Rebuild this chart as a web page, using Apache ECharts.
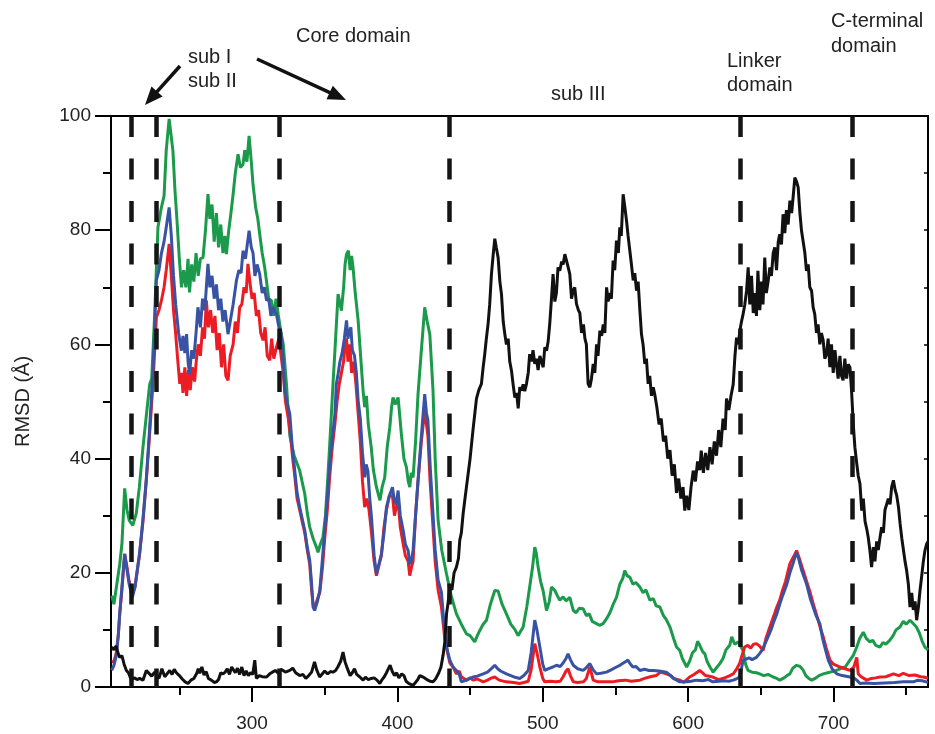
<!DOCTYPE html>
<html>
<head>
<meta charset="utf-8">
<script src="https://cdn.jsdelivr.net/npm/echarts@6/dist/echarts.min.js"></script>
<style>
  html, body { margin: 0; padding: 0; background: #fff; }
  #app { width: 935px; height: 734px; }
</style>
</head>
<body>
<div id="app"></div>
<script>
const xTicks = [300, 400, 500, 600, 700];
const xMinorTicks = [250, 350, 450, 550, 650, 750];
const dividers = [217, 234.2, 318.6, 436, 636, 712.9];

const green = [[203.5,16],[205,14.5],[207,18],[209,21.5],[210.5,25],[212.4,34.8],[214,31],[215.5,29.2],[218,28.3],[220.4,30.4],[222.5,35],[225,42],[227.5,48],[229.6,53],[231,54],[233,65],[235.3,80.5],[237.7,84],[239.5,86],[241,94],[243,99.5],[245.6,93.9],[247,87],[248.4,81.7],[250,75],[251.5,70],[253,73],[254.5,70],[256,75],[257,69.1],[258.5,74],[260,71],[261.5,76],[263,72],[264.5,75],[266.3,75.2],[268,80],[269.7,86.3],[271,82],[272.5,84.5],[274,78],[275.5,83],[277,77],[278.5,81],[280,76],[281.3,79],[282.4,75.8],[284,80],[285.5,83],[287,86.3],[288.5,90],[290.4,93.3],[292,91],[293.8,91.5],[295,94],[296.5,92],[298,96.5],[299.5,92],[300.7,88],[302.5,84],[304,82],[305.3,79.3],[307,76],[308.7,73.5],[310,71],[311.5,68],[313.3,67.7],[315,65],[316.5,68],[318,65.3],[320,62],[321.5,60],[323.7,53],[326,44],[329,40.5],[332.8,37.9],[336.3,33.8],[338,30.5],[339.7,28],[342,26],[344.3,24.5],[345.4,23.6],[347,25],[348.8,26.2],[350.5,30],[352.3,37.3],[354,45],[355.7,53],[357.5,61],[359.2,68.8],[361.5,65.9],[363,70],[364,74],[365,75.8],[366.3,76.4],[367.5,73],[368.5,75.5],[369.5,73.5],[371,69],[373,64.2],[374.7,58],[376.4,51.9],[377.5,49],[378.7,51],[380,46],[382,42],[383.5,38],[385.6,35],[388,32.7],[389.5,35],[391.3,36.7],[393,42],[394.8,45.5],[396,49],[397,50.7],[398.5,49.5],[400.5,50.7],[402.7,44.4],[404.5,40],[406.2,38.5],[407.5,36],[408.5,35],[409.5,37.5],[410.8,36.7],[412.5,43],[414.2,51.3],[416.5,59],[418.8,66.5],[420.5,64],[422.3,61.8],[424.5,52],[426,40],[428,29.2],[430.5,24],[433.8,19.8],[437,16],[440.6,12.8],[444,11],[447.5,9.3],[450,9],[453.2,7.9],[455,9],[456.7,9.9],[459,11],[461.3,11.7],[464,14.5],[467,16.9],[469.3,16.8],[472,14.5],[475,12.8],[478,11],[481,10],[483,9],[486.5,10.5],[489,14],[491,17.5],[493,21],[494.5,24.5],[495.5,23.5],[496.8,21],[498.5,18.5],[500.2,16.9],[502.6,13.4],[504.5,15],[506,17.5],[508.3,16.9],[510,16],[511.7,15.2],[514,15.8],[516,15.1],[518.6,15.7],[521,13.4],[523,13],[525,13.8],[527.8,13.7],[530,12.5],[532,12.8],[534,11.5],[537,11.1],[539,10.8],[541.5,11.1],[544,12],[546,12.9],[548.5,14.5],[550.7,15.7],[553,18],[555,19],[556.4,20.4],[558,19.5],[560,19.2],[562,18],[564,18.3],[566.8,17.5],[569,16.5],[571,17],[573.7,15.2],[576,15.5],[578,14.2],[580.6,14],[583,12.5],[585,11.8],[587.5,10.5],[590,8.5],[592,7],[594.3,6.4],[596,5],[599,3.5],[601,4.5],[603,6],[605,6.5],[606.5,8],[608,7.3],[610,6.2],[611.5,5.8],[613,4.5],[615,3.5],[617.2,2.6],[619,3.2],[621.8,4.1],[624,5],[626,6.5],[628.6,7.3],[630,8.8],[632,7.5],[634.3,7.9],[636,7.2],[637.8,6.4],[639.5,4],[641.2,2.9],[644,2.6],[647,2.5],[649.2,2.3],[652,2],[655,2.2],[658.5,1.75],[661,1.5],[663,1.2],[666,1.6],[668,2],[670,2.3],[672,3.3],[674.6,3.8],[677,3.6],[679,3],[681,2],[683,1.5],[685,1.2],[688,1.6],[690,2],[693,2.3],[696,2.5],[699,2.7],[702,2.9],[705,3.2],[708,3.5],[711.3,4.7],[713.5,5.5],[716,7],[718,8.5],[720.5,9.6],[722.5,8.5],[725,7.9],[727,8.2],[729,7.3],[732,7],[734,7.8],[736,7.5],[738.8,8.2],[741,9],[743,10],[745.7,10.5],[748,11.5],[750,11],[752.6,11.7],[754.5,11.2],[757,10.5],[759,9.5],[761,8],[762.9,7],[765,6.5]];

const red = [[203.5,4.4],[205,4.5],[206.5,5.8],[208,9],[209,12.8],[210.5,17],[212.4,23.3],[214,21],[215.5,18.5],[217.7,16.3],[219.5,17.5],[222.7,23.3],[225,29],[227.3,36.2],[229.5,44],[232,53.7],[234.2,64.7],[236,66],[237.7,67.7],[239.5,70],[241,73],[243,77.6],[244.5,72],[246,66],[247.5,61.8],[249,57],[250.3,53.1],[251.5,55],[252.5,51.5],[253.8,56],[255,51],[256.3,55.5],[257.5,52],[259,56],[260.5,53.5],[261.7,57.2],[263,60],[264.5,58],[266,63],[267.3,61],[268.6,67.7],[270,63],[271.5,66],[273,62],[274.5,65],[276,59],[277.5,62],[279,56],[280.5,60],[282,54.5],[283.5,53.7],[285,58],[287,60],[288.5,64],[290,62],[291.5,66.5],[293,67],[294.5,70],[296,69],[297.2,74.1],[298.5,71],[300,68],[301.5,69],[303,65],[304.5,66],[306,62],[307.6,60.7],[309,63],[310.5,58],[312.2,57.2],[313.5,61],[315,57.5],[316.8,59.5],[318.5,61],[320,58],[321.5,55],[323,50],[325,47],[326.5,44],[328,40],[329.4,37],[331,33],[332.8,31],[334.5,29],[336.3,27],[338,24],[339.7,21.5],[341,17],[342,14.5],[343.1,13.8],[344.5,15],[346.6,16.5],[348.5,21],[350,26],[351.8,31],[353.5,37],[355.2,42],[357,46],[358.5,50],[360,53],[361.5,55],[363,57],[364.2,60.5],[365,61],[366,57],[367.3,60],[368.5,55],[370,57],[371.5,53],[373,48],[374.5,43],[376,36],[377.5,31.5],[379,33],[380.5,31],[382.2,27],[384,22],[385.6,19.5],[387.5,21.5],[389,23],[390.8,28],[392.5,31],[394.5,33.5],[396.6,33.5],[398,30],[399.2,31.5],[400.5,32.5],[402,28],[404,25],[405.5,23],[407.4,22],[408.5,19.5],[409.7,21],[410.8,22],[412.5,30],[414.2,36],[416.5,43],[418.8,48.5],[420,46],[421,44],[422.5,36],[424.5,28],[426,22],[428,17],[430.3,14],[432.6,8.5],[434.5,6],[436.1,4.2],[438.3,3.5],[440.6,2.3],[442.5,2.8],[444,1.8],[447.5,1.2],[450,1.6],[452,1.2],[455,1.4],[459,0.9],[462,1.2],[464,1.5],[467,1.75],[470,1.2],[475,0.9],[480,0.8],[484,0.6],[487,0.8],[490,1],[492,3],[494.5,7.6],[496,6],[498,3.5],[500,1.5],[501.4,0.9],[505,1],[509,0.9],[512,1],[514,1.8],[516,2.8],[517.4,3.2],[519,2],[521,0.9],[524,0.8],[528,0.9],[530,1.5],[532.4,3.5],[534.7,1.2],[538,0.9],[542,0.9],[548,0.9],[552,1.1],[557,1.2],[561,1],[566.8,1.2],[570,1.5],[574,1.8],[578,2],[581,2.6],[585,2.3],[588,2],[590,1.5],[594.3,1.2],[597,0.8],[601,1.75],[604,2.2],[608,2.9],[612,2],[617,1.75],[621,1.3],[625,1.6],[628,1.9],[631,2.3],[633,3],[635.4,4.1],[637,5.5],[638.9,7],[641,7.3],[643,6.8],[645,7.5],[647,7.6],[649,7.2],[651.6,6.4],[653.5,8.5],[656.2,10.5],[659,12.5],[661,14],[663,15.2],[665,17],[667,18.5],[670,21.6],[672.5,22.8],[674.6,23.9],[676.5,22.5],[679.1,20.4],[681.5,18.5],[684,16.5],[686,14.6],[688.5,12.5],[691,10.3],[693,8.7],[695,6.8],[697.6,4.7],[700,4],[704.5,3.5],[708,3.2],[711.3,2.9],[714,3.5],[716,5.2],[717,2.3],[719,1.8],[722.9,1.2],[726,1.5],[729,1.6],[732,1.75],[736,1.8],[741.2,2.3],[745,2],[748,2.4],[752,2],[756,2.1],[760,1.8],[762,1.75],[765,1.5]];

const blue = [[203.5,2.9],[205,3.8],[206.5,5.3],[208,9],[209,12.8],[210.5,17.5],[212.4,23.3],[214,20.5],[215.5,18],[217.7,15.7],[219.5,17.5],[222.7,23.5],[225,29.5],[227.3,36.5],[229.5,45],[232,56],[234.2,71.2],[236,73],[237.7,76],[239.5,78],[241,80.5],[243,84],[244.5,79],[246,72],[247.5,67],[249.5,62],[251.4,58.9],[252.5,61.5],[253.8,58.5],[255,61.8],[256,57],[257,54.8],[258.5,59],[260,57.5],[261.5,62],[262.8,66.5],[264.5,63],[266,68],[267.5,66],[269.7,74.1],[271,70],[272.5,72],[274,68],[275.5,70.5],[277,66],[278.5,68],[280,64],[281.5,66],[283.5,61.8],[285,64],[287,67],[289.3,71.2],[291,73],[292.5,72.5],[293.8,76.4],[295.5,75],[297,78],[298,79.9],[299.5,77],[300.7,76],[302,72],[303.5,74],[305.3,72.3],[307,69],[308.5,70],[310,67.7],[311.5,68],[313,65],[314.5,66.5],[316.8,65.3],[318.5,63],[320,62],[321.5,57],[322.5,51.9],[324,50],[326,47.8],[327.7,42],[329.4,37.9],[331,34],[332.8,31.5],[334.5,29.5],[336.3,27.4],[338,24.5],[339.7,22.2],[341,18],[342,14],[343.1,13.4],[345,15],[346.6,16.9],[348.3,22],[350,27.4],[351.8,33],[353.5,39.1],[355.2,43.5],[357,47.8],[358,53],[359.2,54.8],[360.5,57],[362,58.5],[363.5,61],[365,64.2],[366,61],[366.5,61.8],[368,63],[369,59],[370.5,58],[371.8,55],[373,50.2],[374.5,47],[376,41],[377.5,36.7],[378.5,39],[379.7,37.9],[381,33],[382.2,29.7],[384,23],[385.6,19.8],[387.3,21.5],[389,23.3],[390.8,27],[392.5,31.5],[394.5,33.5],[396.6,35],[398,32.5],[399.2,32],[400.5,34.4],[402,30],[404,27.4],[405.5,25],[407.4,23.9],[408.5,21.5],[409.7,22.2],[410.8,24],[412.5,30],[414.2,36.2],[416.5,44],[418.8,51.3],[420,48],[421,46.7],[422.7,38],[424.5,30.3],[426,24],[428,18.7],[430.3,16.6],[432.6,9.3],[434.3,6.5],[436.1,4.7],[438.3,3.5],[440.6,2.9],[442.5,2.3],[444,0.9],[447.5,1.2],[450,1.5],[452,1.75],[455,1.9],[459,2.3],[462,2.6],[465,3.3],[467,3.8],[469,3.2],[471,2.8],[475,2.3],[478,2],[481,1.7],[484.2,1.5],[487,2],[490,2.9],[492,6],[494.5,11.7],[496,10],[498,7],[500,4],[501.4,2.9],[504,3.2],[507,3.5],[509.4,3.8],[512,3.6],[514,4.2],[516,5],[517.4,5.8],[519,4.8],[521,3.8],[524,3.2],[527.8,2.9],[530,3.4],[532.4,4.1],[534.7,3],[537,2.3],[540,2.4],[543.8,2.6],[547,3],[550.7,3.5],[553,3.8],[556,4.3],[558.7,4.7],[560,4.1],[562,3.5],[564,3.6],[566.8,2.9],[570,3.1],[573,2.9],[576,2.9],[580,2.8],[585,2.6],[588,2],[590,1.5],[594.3,0.9],[599,0.9],[602,1],[605.5,1.2],[610,1.1],[614,1.3],[617,0.9],[621,1],[625,1.1],[628,1],[631,1.2],[633,1.4],[635.4,1.75],[636.5,3],[637.8,4.7],[640,4.9],[642,5.1],[644,4.8],[647,5.2],[649,5.8],[651,6.5],[654,8.2],[657,10],[659,11.5],[661,12.8],[663,14.5],[665,16],[668,18.1],[670,20],[672,21.5],[673.4,22.7],[674.5,23.5],[676,22.5],[678,20.5],[681.4,18.1],[684,15.5],[686,14],[688,12.5],[690.6,11.1],[692.5,8.5],[694.5,6.5],[696.4,4.7],[699,3.2],[702.2,2.3],[706,2],[711.3,1.75],[714,1.6],[716,1.2],[718.2,0.6],[722,0.7],[728,0.6],[735,0.7],[742,0.8],[748,0.9],[755,0.9],[758,1.2],[761,1.1],[765,0.8]];

const black = [[203.5,7],[205,6.5],[206.5,7.2],[208,5.8],[209,5.2],[210.5,5.5],[212,4],[213.6,2.9],[215,2.5],[217,1.2],[219,1.6],[221,1.3],[222.7,1.5],[225,1.2],[227.3,2.9],[229.5,2.3],[231,1.9],[233,2.6],[234.2,2.9],[236,1.5],[238,3.2],[240,1.8],[241,1.75],[243.4,2.9],[245,2.2],[246.5,3.1],[248,2.5],[250,2],[252,1.4],[254,0.9],[256,0.6],[258,1.2],[260,1.5],[262,2.4],[263,3.2],[264,2.4],[265.5,3.5],[267,2.1],[268.5,2.7],[270,1.5],[272,1.2],[274,0.8],[275.5,0.9],[277,1.3],[278.5,2.5],[280.1,2.3],[281.5,2.6],[283,3.2],[284.5,2.2],[286,3.5],[287,3.8],[288.5,2.5],[290,3.3],[291.5,2.2],[293,3.5],[294.5,2],[296,2.8],[297.5,2],[299,2.5],[300.5,2.2],[301.9,4.7],[303,1.5],[305,2],[307,1.8],[310,1.75],[312.2,2.3],[314,2.6],[316,2.9],[318,2.4],[320,3.1],[321.4,2.9],[323,2.6],[326,2.9],[328,3.3],[330,2.5],[332.8,2],[335,2.2],[337,1.5],[339,2],[341,2.6],[343,4.4],[344.5,3],[346.5,1.75],[348,2.2],[350,2.8],[352,2.3],[354,2.7],[355.7,2.6],[357.5,2.9],[359,3.5],[361,4.5],[362.6,6.1],[364,4.4],[365.5,3.3],[367.5,2],[369,2.5],[370.5,3.2],[372,2.2],[374,1.8],[376.4,1.2],[378,1.7],[380,1.3],[382,1.5],[384,1.6],[386,1.2],[387.9,0.6],[389.5,1.3],[391,1.8],[392.5,2.5],[394,3.3],[395,3.8],[396.5,2.7],[398,2],[399.5,2.5],[401,1.6],[403,2.3],[404.5,2],[406,1],[408,0.6],[410.8,0.3],[412.5,0.8],[414,1.3],[415.5,2],[417.7,1.75],[419,1.5],[421,1.2],[422.5,1],[424.5,0.9],[426.5,1.5],[428.5,2.5],[430,3.5],[431.4,5.5],[432.7,8],[433.8,12.8],[435,15],[436.1,17.5],[437.5,17],[439,20],[440.6,21],[442,22.5],[442.9,25.7],[444,27],[445.2,30.3],[446.5,33],[447.5,35],[448.5,37],[450,40],[452,45],[454.4,50.5],[456,52],[457.8,53.1],[459,56],[460.1,58.3],[461.2,61],[462.4,63.6],[463.5,67],[464.7,72.3],[466,76],[467,78.5],[468,77],[469.3,75.2],[470.5,71],[471.6,68.8],[472.8,64],[473.9,61.8],[475,60],[476.2,61],[477.3,57],[478.5,55.4],[479.6,53],[480.8,50.7],[482,51.5],[483.1,48.8],[484.2,52.5],[485.4,51.9],[486.5,53],[487.6,51.8],[488.8,53.1],[490,55],[491,58.3],[492.2,57],[493.3,59],[494.5,56.6],[495.7,57.5],[496.8,55.5],[498,58],[499.1,58.3],[500.3,56],[501.4,59.5],[502.6,58.9],[503.7,60.5],[504.8,63.6],[506,68],[507.1,72.3],[508.3,67.5],[509.4,69],[510.5,73.5],[511.7,72.9],[513,74.5],[514,74],[515.2,75.8],[516.5,74.5],[517.5,73.5],[518.6,72.3],[519.8,68],[520.9,69.4],[522,70],[523.2,67.1],[524.5,66],[525.5,65.5],[526.7,62],[528,63.5],[529,61],[530,60],[531.2,53.1],[532.4,52.5],[533.5,54],[534.7,56.6],[535.8,55],[537,60],[538,58],[539.3,62.4],[540.5,61.5],[541.6,63.5],[542.7,62],[543.9,70],[545,67.5],[546,69],[547.2,68],[548.4,74.7],[549.5,73],[550.7,78.2],[552,76],[553,80.5],[554,79],[555.3,86.3],[556.5,84],[557.6,81.7],[558.7,79],[559.9,76.4],[561,74],[562.2,71.2],[563.3,72.5],[564.5,69.4],[565.6,71],[566.8,66],[567.9,61.8],[569,60],[570.2,56.6],[571.3,57.5],[572.5,53.1],[573.6,54.5],[574.8,51],[576,52.5],[577,51.3],[578.5,49],[580,46],[581.5,47],[583,43],[584.5,44],[586,40],[587.5,41.5],[589,37],[590.5,39],[592,34],[593.5,36.5],[595,33],[596.5,35],[597.7,30.9],[599,33.5],[600.5,31],[602,35],[603.5,37.9],[605,36],[606.5,39.5],[608,38],[609,41.4],[610.5,37.5],[612,41],[613.5,38],[615,42],[616.5,39],[618,43],[619.5,40.5],[621,45],[622.5,42],[624,47],[625.5,45],[626.4,50.5],[628,48.5],[629.5,51],[631,53],[632.2,58],[633.3,61.2],[634.5,60],[635.6,62.4],[636.7,64],[637.8,65.3],[639,67],[640.2,69.4],[641.3,73.5],[642.4,67],[643.6,72],[644.8,65.5],[646,69],[647,65],[648,72.9],[649.3,66],[650.5,71],[651.5,67],[652.7,75.2],[653.8,69],[655,71],[656.2,73.5],[657.3,72],[658.5,76],[659.6,77],[660.8,73],[662,78],[663,79.3],[664.2,77.5],[665.3,82.8],[666.5,79.5],[667.6,83.5],[668.8,81],[670,85.2],[671.2,83],[672.3,86],[673.4,89.2],[674.6,88.5],[675.7,87.5],[676.9,83],[678,79.9],[679.2,80],[680.3,76],[681.4,72.9],[682.6,74],[683.7,70],[684.9,69.4],[686,66.5],[687.1,65.3],[688.3,62],[689.4,63.5],[690.6,60],[691.7,62],[692.9,60.7],[694,57.5],[695.2,58.3],[696.3,61],[697.5,56],[698.6,60],[699.8,55],[701,59],[702,56.6],[703.2,54],[704.4,58],[705.5,54.5],[706.6,53.7],[707.8,57.5],[709,54],[710.1,56.5],[711.3,56],[712.4,52],[713.6,46],[714.7,42],[716,39.1],[717,37],[718.2,35.6],[719.4,30.9],[720.5,33],[721.7,29],[723,27.5],[723.9,26.2],[725,24],[726.2,21],[727.4,24.5],[728.5,22],[729.7,25.5],[730.8,24],[732,26.2],[733.1,28],[734.3,27],[735.4,31],[736.6,30.9],[737.7,33],[738.9,32],[740,35],[741.2,36.2],[742.4,34.5],[743.5,33.5],[744.7,31.5],[745.8,28.6],[747,26],[748.1,24],[749.2,22],[750.3,20.4],[751.5,18],[752.6,14],[753.8,16.5],[754.9,13.5],[756.1,15],[757.2,11.7],[758.4,14],[759.5,16.9],[760.7,19.5],[761.8,22],[762.9,23.9],[764,25],[765,25.5]];

const FONT = '"Liberation Sans", Arial, sans-serif';
const myChart = echarts.init(document.getElementById('app'));

const arrow = (x1, y1, x2, y2) => {
  const L = Math.hypot(x2 - x1, y2 - y1);
  const ux = (x2 - x1) / L, uy = (y2 - y1) / L;
  const hl = 18, hw = 7.5;
  const bx = x2 - ux * hl, by = y2 - uy * hl;
  return [
    { type: 'line', shape: { x1, y1, x2: bx + ux * 2, y2: by + uy * 2 }, style: { stroke: '#111', lineWidth: 3.5 } },
    { type: 'polygon', shape: { points: [[x2, y2], [bx - uy * hw, by + ux * hw], [bx + uy * hw, by - ux * hw]] }, style: { fill: '#111' } },
  ];
};

const label = (text, x, y) => ({
  type: 'text', x, y,
  style: { text, fill: '#222', fontSize: 20, fontFamily: FONT, align: 'left', verticalAlign: 'middle' }
});

const lineSeries = (name, data, color) => ({
  name, type: 'line', data, showSymbol: false, symbol: 'none',
  lineStyle: { color, width: 3 }, itemStyle: { color },
  xAxisIndex: 0, yAxisIndex: 0, animation: false,
});

const blackSeries = lineSeries('black', black, '#111');
blackSeries.markLine = {
  silent: true, symbol: ['none', 'none'], animation: false,
  label: { show: false },
  lineStyle: { color: '#151515', width: 4.5, type: [21, 21.5] },
  data: dividers.map(v => [{ coord: [v, 100] }, { coord: [v, 0] }]),
};

const option = {
  animation: false,
  backgroundColor: '#fff',
  grid: { left: 111, right: 7, top: 116, bottom: 47, show: true, borderColor: '#000', borderWidth: 2 },
  xAxis: [
    {
      type: 'value', min: 203, max: 765, position: 'bottom',
      axisLine: { lineStyle: { color: '#000', width: 2 } },
      axisTick: { customValues: xTicks, length: 15, lineStyle: { color: '#000', width: 2 } },
      axisLabel: { customValues: xTicks, color: '#222', fontSize: 19, fontFamily: FONT, margin: 27 },
      splitLine: { show: false },
    },
    {
      type: 'value', min: 203, max: 765, position: 'bottom',
      axisLine: { show: false },
      axisTick: { customValues: xMinorTicks, length: 8, lineStyle: { color: '#000', width: 2 } },
      axisLabel: { show: false },
      splitLine: { show: false },
    },
  ],
  yAxis: [
    {
      type: 'value', min: 0, max: 100, interval: 20, position: 'left',
      name: 'RMSD (Å)', nameLocation: 'middle', nameGap: 78,
      nameTextStyle: { color: '#222', fontSize: 20, fontFamily: FONT },
      axisLine: { show: true, lineStyle: { color: '#000', width: 2 } },
      axisTick: { show: true, length: 16, lineStyle: { color: '#000', width: 2 } },
      minorTick: { show: true, splitNumber: 2, length: 8, lineStyle: { color: '#000', width: 2 } },
      axisLabel: { color: '#222', fontSize: 19, fontFamily: FONT, margin: 20 },
      splitLine: { show: false },
    },
    {
      type: 'value', min: 0, max: 100, interval: 10, position: 'right',
      axisLine: { show: true, lineStyle: { color: '#000', width: 2 } },
      axisTick: { show: true, inside: true, length: 4, lineStyle: { color: '#000', width: 1.5 } },
      axisLabel: { show: false },
      splitLine: { show: false },
    },
  ],
  graphic: [
    label('Core domain', 296, 36),
    label('sub I', 188, 57),
    label('sub II', 188, 81),
    label('sub III', 551, 94),
    label('Linker', 727, 61),
    label('domain', 727, 85),
    label('C-terminal', 831, 21),
    label('domain', 831, 46),
    ...arrow(180, 66, 145, 105),
    ...arrow(257, 59, 346, 100),
  ],
  series: [
    lineSeries('green', green, '#1a9a4a'),
    lineSeries('red', red, '#ec1c24'),
    lineSeries('blue', blue, '#3953a4'),
    blackSeries,
  ],
};

myChart.setOption(option);
</script>
</body>
</html>
